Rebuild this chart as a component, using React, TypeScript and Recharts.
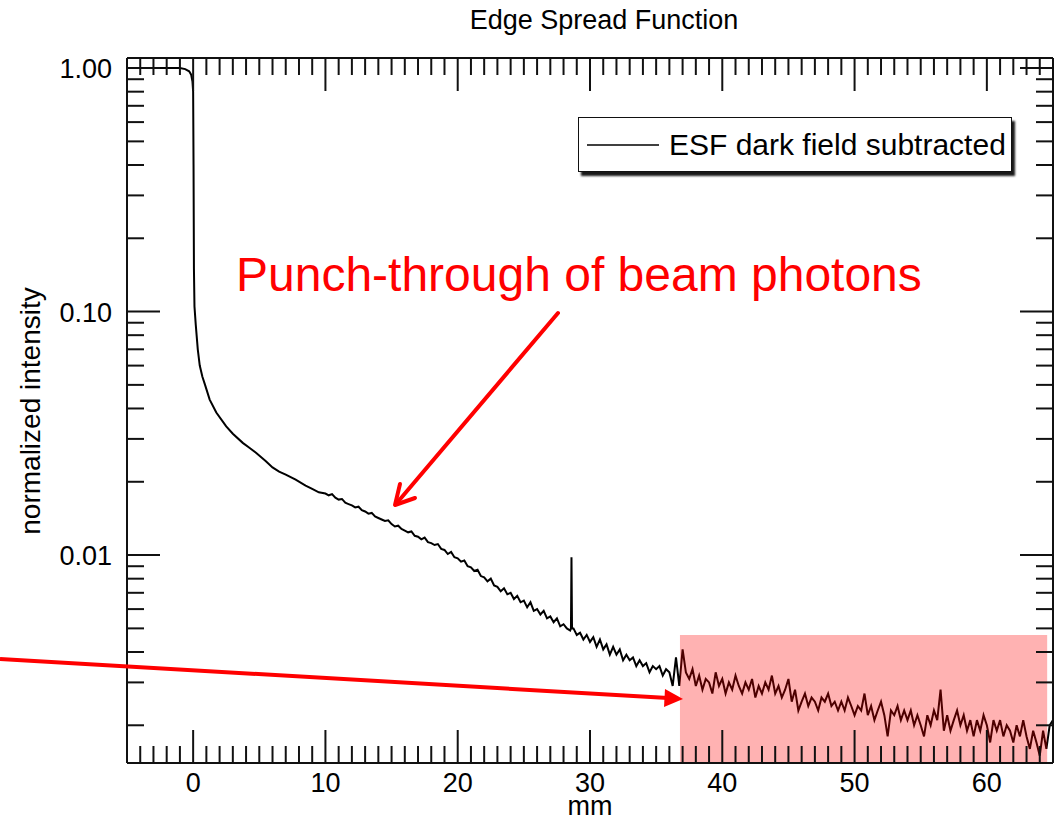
import React from 'react';
import { LineChart, Line, XAxis, YAxis, ReferenceArea, Legend } from 'recharts';

// edge region, sampled unevenly (mm, normalized intensity)
const edgeMm = [-5, -2, -1, -0.6, -0.3, -0.15, -0.05, 0, 0.03, 0.06, 0.1, 0.2, 0.35, 0.5, 0.7, 0.9,
  1.25, 1.75, 2.5, 3.0, 3.75, 4.25, 4.75, 5.5, 6.0, 6.5, 7.0, 7.75, 8.5, 9.0, 9.5];
const edgeIntensity = [1.0, 1.0, 1.0, 0.99, 0.97, 0.94, 0.88, 0.8, 0.4, 0.15, 0.105, 0.088, 0.07, 0.06, 0.054, 0.05,
  0.0435, 0.0385, 0.0338, 0.0315, 0.0289, 0.0276, 0.0263, 0.0243, 0.0229, 0.022, 0.0214, 0.0204, 0.0193, 0.0187, 0.0181];

// tail, every 0.25 mm from 10 mm to 65 mm
const tailStartMm = 10;
const tailStepMm = 0.25;
const tailIntensity = [
  0.0179, 0.0176, 0.0178, 0.0172, // 10
  0.0169, 0.0170, 0.0164, 0.0162,
  0.0160, 0.0157, 0.0158, 0.0153,
  0.0151, 0.0148, 0.0149, 0.0144,
  0.0142, 0.0140, 0.0138, 0.0139,
  0.0134, 0.0131, 0.0132, 0.0128, // 15
  0.0126, 0.0124, 0.0125, 0.0120,
  0.0119, 0.0116, 0.0118, 0.0113,
  0.0112, 0.0110, 0.0111, 0.0106,
  0.0105, 0.0101, 0.0103, 0.0098,
  0.0097, 0.0094, 0.0095, 0.0090, // 20
  0.0089, 0.0086, 0.0087, 0.0082,
  0.0081, 0.0078, 0.0080, 0.0075,
  0.0074, 0.0071, 0.0073, 0.0069,
  0.0070, 0.0066, 0.0068, 0.0064,
  0.0065, 0.0061, 0.0064, 0.0059, // 25
  0.0060, 0.0057, 0.0059, 0.0055,
  0.0056, 0.0053, 0.0055, 0.0051,
  0.0052, 0.0050, 0.0049, 0.0050,
  0.0047, 0.0048, 0.0045, 0.0047,
  0.0044, 0.0046, 0.0042, 0.0045, // 30
  0.0041, 0.0043, 0.0039, 0.0042,
  0.0039, 0.0041, 0.0037, 0.0039,
  0.0037, 0.0038, 0.0035, 0.0037,
  0.0035, 0.0036, 0.0033, 0.0035,
  0.0034, 0.0035, 0.0032, 0.0034, // 35
  0.0033, 0.0029, 0.0038, 0.0029,
  0.0041, 0.0033, 0.0031, 0.0034,
  0.0029, 0.0032, 0.0028, 0.0031,
  0.0030, 0.0027, 0.0033, 0.0029,
  0.0031, 0.0027, 0.0030, 0.0028, // 40
  0.0032, 0.0029, 0.0027, 0.0030,
  0.0028, 0.0031, 0.0026, 0.0029,
  0.0027, 0.0030, 0.0028, 0.0032,
  0.0027, 0.0029, 0.0026, 0.0028,
  0.0031, 0.0025, 0.0028, 0.0023, // 45
  0.0025, 0.0027, 0.0024, 0.0026,
  0.0025, 0.0023, 0.0026, 0.0025,
  0.0027, 0.0024, 0.0025, 0.0023,
  0.0025, 0.0023, 0.0026, 0.0024,
  0.0022, 0.0024, 0.0023, 0.0027, // 50
  0.0022, 0.0024, 0.0021, 0.0023,
  0.0025, 0.0022, 0.0018, 0.0023,
  0.0022, 0.0024, 0.0021, 0.0023,
  0.0021, 0.0023, 0.0020, 0.0022,
  0.0020, 0.0018, 0.0022, 0.0020, // 55
  0.0023, 0.0021, 0.0028, 0.0019,
  0.0022, 0.0019, 0.0021, 0.0023,
  0.0020, 0.0022, 0.0019, 0.0021,
  0.0018, 0.0021, 0.0019, 0.0022,
  0.0020, 0.0017, 0.0021, 0.0019, // 60
  0.0021, 0.0018, 0.0020, 0.0019,
  0.0017, 0.0020, 0.0018, 0.0021,
  0.0018, 0.0016, 0.0019, 0.0017,
  0.0015, 0.0019, 0.0016, 0.0020,
  0.0021, // 65
];

// single-pixel spike near 28.6 mm
const spikeMm = [28.56, 28.6, 28.64];
const spikeIntensity = [0.0050, 0.0098, 0.0050];

const xMajorTicks = [0, 10, 20, 30, 40, 50, 60];
const xTicks = Array.from({ length: 71 }, (_, i) => i - 5);
const yTicks = [
  0.002, 0.003, 0.004, 0.005, 0.006, 0.007, 0.008, 0.009,
  0.01, 0.02, 0.03, 0.04, 0.05, 0.06, 0.07, 0.08, 0.09,
  0.1, 0.2, 0.3, 0.4, 0.5, 0.6, 0.7, 0.8, 0.9,
  1.0,
];
const yMajorTicks = [0.01, 0.1, 1.0];

const esfData = [
  ...edgeMm.map((mm, i) => ({ mm, v: edgeIntensity[i] })),
  ...tailIntensity.map((v, i) => ({ mm: tailStartMm + i * tailStepMm, v })),
  ...spikeMm.map((mm, i) => ({ mm, v: spikeIntensity[i] })),
].sort((a, b) => a.mm - b.mm);

const INK = '#111';
const MAJOR = 33;
const MINOR = 17;

const isYMajor = (v: number) => yMajorTicks.some(m => Math.abs(m - v) < 1e-9);

const BottomTick = ({ x, y, payload }: any) => {
  const major = xMajorTicks.includes(payload.value);
  return (
    <g>
      <line x1={x} y1={y} x2={x} y2={y - (major ? MAJOR : MINOR)} stroke={INK} strokeWidth={2} />
      {major && (
        <text x={x} y={y + 29} textAnchor="middle" fontSize={27} fill="#000">{payload.value}</text>
      )}
    </g>
  );
};

const TopTick = ({ x, y, payload }: any) => {
  const major = xMajorTicks.includes(payload.value);
  return <line x1={x} y1={y} x2={x} y2={y + (major ? MAJOR : MINOR)} stroke={INK} strokeWidth={2} />;
};

const LeftTick = ({ x, y, payload }: any) => {
  const major = isYMajor(payload.value);
  return (
    <g>
      <line x1={x} y1={y} x2={x + (major ? MAJOR : MINOR)} y2={y} stroke={INK} strokeWidth={2} />
      {major && (
        <text x={x - 15} y={y + 10} textAnchor="end" fontSize={27} fill="#000">{payload.value.toFixed(2)}</text>
      )}
    </g>
  );
};

const RightTick = ({ x, y, payload }: any) => {
  const major = isYMajor(payload.value);
  return <line x1={x} y1={y} x2={x - (major ? MAJOR : MINOR)} y2={y} stroke={INK} strokeWidth={2} />;
};

const LegendBox = ({ payload }: any) => (
  <div
    style={{
      width: 434,
      height: 55,
      boxSizing: 'border-box',
      border: '1.5px solid #111',
      background: '#fff',
      boxShadow: '3px 4px 2px rgba(0,0,0,0.9)',
      display: 'flex',
      alignItems: 'center',
    }}
  >
    <svg width={80} height={10} style={{ flex: 'none' }}>
      <line x1={8} y1={5} x2={80} y2={5} stroke="#000" strokeWidth={1.5} />
    </svg>
    <span style={{ fontSize: 30, marginLeft: 10, color: '#000', whiteSpace: 'nowrap' }}>
      {payload?.[0]?.value ?? 'ESF dark field subtracted'}
    </span>
  </div>
);

export default function App() {
  return (
    <div
      style={{
        position: 'absolute',
        left: 0,
        top: 0,
        width: 1056,
        height: 820,
        background: '#fff',
        fontFamily: "'Liberation Sans', Arial, sans-serif",
      }}
    >
      <LineChart width={1056} height={820} data={esfData} margin={{ top: 57, right: 2, bottom: 56, left: 126 }}>
        <XAxis
          xAxisId="b"
          dataKey="mm"
          type="number"
          domain={[-5, 65]}
          ticks={xTicks}
          interval={0}
          height={1}
          tickSize={0}
          tickMargin={0}
          tickLine={false}
          axisLine={{ stroke: INK, strokeWidth: 2 }}
          tick={<BottomTick />}
          allowDataOverflow
        />
        <XAxis
          xAxisId="t"
          dataKey="mm"
          orientation="top"
          type="number"
          domain={[-5, 65]}
          ticks={xTicks}
          interval={0}
          height={1}
          tickSize={0}
          tickMargin={0}
          tickLine={false}
          axisLine={{ stroke: INK, strokeWidth: 2 }}
          tick={<TopTick />}
          allowDataOverflow
        />
        <YAxis
          yAxisId="l"
          type="number"
          scale="log"
          domain={[0.0014, 1.1]}
          ticks={yTicks}
          interval={0}
          width={1}
          tickSize={0}
          tickMargin={0}
          tickLine={false}
          axisLine={{ stroke: INK, strokeWidth: 2 }}
          tick={<LeftTick />}
          allowDataOverflow
        />
        <YAxis
          yAxisId="r"
          dataKey="v"
          orientation="right"
          type="number"
          scale="log"
          domain={[0.0014, 1.1]}
          ticks={yTicks}
          interval={0}
          width={1}
          tickSize={0}
          tickMargin={0}
          tickLine={false}
          axisLine={{ stroke: INK, strokeWidth: 2 }}
          tick={<RightTick />}
          allowDataOverflow
        />
        <Line
          xAxisId="b"
          yAxisId="l"
          dataKey="v"
          name="ESF dark field subtracted"
          type="linear"
          stroke="#000"
          strokeWidth={2}
          dot={false}
          activeDot={false}
          isAnimationActive={false}
        />
        <ReferenceArea
          xAxisId="b"
          yAxisId="l"
          x1={36.8}
          x2={64.56}
          y1={0.0014}
          y2={0.0047}
          fill="#ff0000"
          fillOpacity={0.3}
          stroke="none"
          zIndex={450}
        />
        <Legend
          layout="vertical"
          verticalAlign="middle"
          align="center"
          wrapperStyle={{ left: 578, top: 117, width: 434, height: 55 }}
          content={<LegendBox />}
        />
      </LineChart>

      <svg
        width={1056}
        height={820}
        style={{ position: 'absolute', left: 0, top: 0, pointerEvents: 'none' }}
      >
        <text x={604} y={29} textAnchor="middle" fontSize={27} fill="#000">Edge Spread Function</text>
        <text
          x={30}
          y={411}
          textAnchor="middle"
          dominantBaseline="central"
          fontSize={28}
          fill="#000"
          transform="rotate(-90 30 411)"
        >
          normalized intensity
        </text>
        <text x={590} y={815} textAnchor="middle" fontSize={27} fill="#000">mm</text>

        <text x={236} y={291} fontSize={48} fill="#ff0000">Punch-through of beam photons</text>
        {/* open arrow to the curve */}
        <line x1={558} y1={313} x2={396} y2={504} stroke="#ff0000" strokeWidth={4} strokeLinecap="round" />
        <polyline points="400,484 395,505 415,498" fill="none" stroke="#ff0000" strokeWidth={4} strokeLinecap="round" strokeLinejoin="round" />
        {/* filled arrow into the shaded region */}
        <line x1={0} y1={659} x2={668} y2={698} stroke="#ff0000" strokeWidth={4} />
        <polygon points="665,689 683,699 664,707" fill="#ff0000" />
      </svg>
    </div>
  );
}
